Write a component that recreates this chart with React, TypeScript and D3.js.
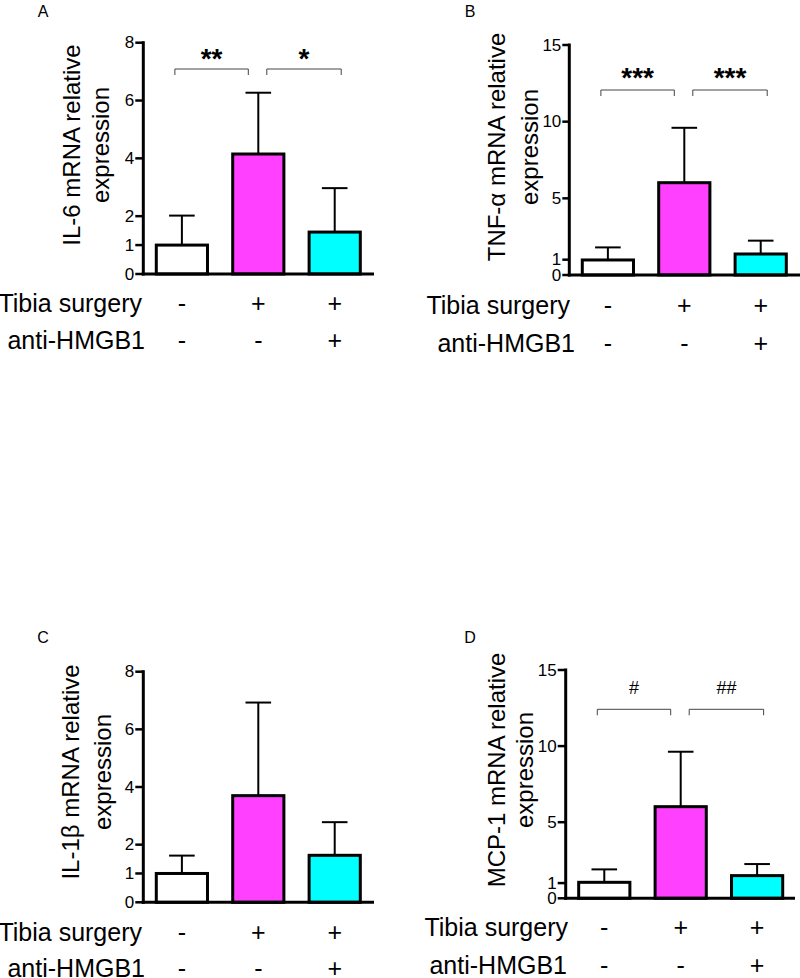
import React from "react";
import * as d3 from "d3";

// groups and row signs under each bar
const groups = ["control", "surgery", "surgery+antibody"];
const tibiaSigns = ["-", "+", "+"];
const antiSigns = ["-", "-", "+"];
const barColors = ["#FFFFFF", "#FF40FF", "#00FFFF"];

// mean and error (upper SD)
const il6Mean = [1.0, 4.15, 1.45];
const il6Err = [1.02, 2.12, 1.52];
const tnfMean = [0.98, 6.02, 1.37];
const tnfErr = [0.82, 3.58, 0.87];
const il1bMean = [1.0, 3.7, 1.63];
const il1bErr = [0.62, 3.23, 1.15];
const mcp1Mean = [1.05, 6.02, 1.49];
const mcp1Err = [0.85, 3.61, 0.76];

const smallTicks = [0, 1, 2, 4, 6, 8];
const bigTicks = [0, 1, 5, 10, 15];

const il6Sig = ["**", "*"];
const tnfSig = ["***", "***"];
const mcp1Sig = ["#", "##"];

const font = "Liberation Sans, Arial, sans-serif";

type PanelProps = {
  letter: string;
  letterX: number;
  letterY: number;
  axisX: number;
  axisEnd: number;
  y0: number;
  yTop: number;
  yMax: number;
  ticks: number[];
  tickLen: number;
  mean: number[];
  err: number[];
  yLabel: string[];
  yLabelX: number[];
  yLabelY: number;
  rowY: number[];
  rowRight: number[];
  sig?: string[];
  sigY?: number;
  sigSize?: number;
  sigBold?: boolean;
  bracketY?: number;
};

function Panel(p: PanelProps) {
  const x = d3
    .scaleBand()
    .domain(groups)
    .range([p.axisX, p.axisX + 230])
    .paddingInner(0.33)
    .paddingOuter(0.17);
  const y = d3.scaleLinear().domain([0, p.yMax]).range([p.y0, p.yTop]);
  const bw = x.bandwidth();
  const cx = (i: number) => (x(groups[i]) as number) + bw / 2;

  const brackets = p.sig
    ? [
        [cx(0) - 7, cx(1) - 10],
        [cx(1) + 8.5, cx(2) + 6.5],
      ]
    : [];

  return (
    <g fontFamily={font}>
      <text x={p.letterX} y={p.letterY} fontSize={16} textAnchor="middle">
        {p.letter}
      </text>

      {/* y label */}
      {p.yLabel.map((t, i) => (
        <text
          key={t}
          transform={`translate(${p.yLabelX[i]},${p.yLabelY}) rotate(-90)`}
          textAnchor="middle"
          dominantBaseline="central"
          fontSize={24}
        >
          {t}
        </text>
      ))}

      {/* bars */}
      {groups.map((g, i) => (
        <g key={g}>
          <line
            x1={cx(i)}
            x2={cx(i)}
            y1={y(p.mean[i])}
            y2={y(p.mean[i] + p.err[i])}
            stroke="#000"
            strokeWidth={2}
          />
          <line
            x1={cx(i) - bw / 4}
            x2={cx(i) + bw / 4}
            y1={y(p.mean[i] + p.err[i])}
            y2={y(p.mean[i] + p.err[i])}
            stroke="#000"
            strokeWidth={2}
          />
          <rect
            x={x(g)}
            y={y(p.mean[i])}
            width={bw}
            height={p.y0 - y(p.mean[i])}
            fill={barColors[i]}
            stroke="#000"
            strokeWidth={3}
          />
        </g>
      ))}

      {/* axes */}
      <line x1={p.axisX} x2={p.axisX} y1={p.y0 + 1.5} y2={p.yTop - 1.5} stroke="#000" strokeWidth={3} />
      <line x1={p.axisX - 1.5} x2={p.axisEnd} y1={p.y0} y2={p.y0} stroke="#000" strokeWidth={3} />
      {p.ticks.map((t) => (
        <g key={t}>
          <line
            x1={p.axisX - p.tickLen}
            x2={p.axisX}
            y1={y(t)}
            y2={y(t)}
            stroke="#000"
            strokeWidth={2.5}
          />
          <text
            x={p.axisX - p.tickLen - 1}
            y={y(t)}
            textAnchor="end"
            dominantBaseline="central"
            fontSize={17}
          >
            {t}
          </text>
        </g>
      ))}

      {/* significance brackets */}
      {brackets.map(([a, b], i) => (
        <g key={i}>
          <path
            d={`M${a},${(p.bracketY as number) + 6}V${p.bracketY}H${b}V${(p.bracketY as number) + 6}`}
            fill="none"
            stroke="#444"
            strokeWidth={1}
          />
          <text
            x={(a + b) / 2}
            y={p.sigY}
            textAnchor="middle"
            fontSize={p.sigSize}
            fontWeight={p.sigBold ? "bold" : "normal"}
          >
            {(p.sig as string[])[i]}
          </text>
        </g>
      ))}

      {/* rows under the chart */}
      <text x={p.rowRight[0]} y={p.rowY[0]} textAnchor="end" dominantBaseline="central" fontSize={25}>
        Tibia surgery
      </text>
      <text x={p.rowRight[1]} y={p.rowY[1]} textAnchor="end" dominantBaseline="central" fontSize={25}>
        anti-HMGB1
      </text>
      {groups.map((g, i) => (
        <g key={g}>
          <text x={cx(i)} y={p.rowY[0]} textAnchor="middle" dominantBaseline="central" fontSize={25}>
            {tibiaSigns[i]}
          </text>
          <text x={cx(i)} y={p.rowY[1]} textAnchor="middle" dominantBaseline="central" fontSize={25}>
            {antiSigns[i]}
          </text>
        </g>
      ))}
    </g>
  );
}

export default function App() {
  return (
    <svg
      width={800}
      height={978}
      style={{ position: "absolute", left: 0, top: 0, background: "#fff" }}
    >
      <rect width={800} height={978} fill="#fff" />
      <Panel
        letter="A"
        letterX={43}
        letterY={17}
        axisX={143.3}
        axisEnd={374}
        y0={274}
        yTop={42.7}
        yMax={8}
        ticks={smallTicks}
        tickLen={8}
        mean={il6Mean}
        err={il6Err}
        yLabel={["IL-6 mRNA relative", "expression"]}
        yLabelX={[71.7, 100]}
        yLabelY={145}
        rowY={[303, 340]}
        rowRight={[142, 145]}
        sig={il6Sig}
        sigY={68}
        sigSize={28}
        sigBold
        bracketY={69}
      />
      <Panel
        letter="B"
        letterX={470}
        letterY={17}
        axisX={569.3}
        axisEnd={800}
        y0={275}
        yTop={45}
        yMax={15}
        ticks={bigTicks}
        tickLen={7}
        mean={tnfMean}
        err={tnfErr}
        yLabel={["TNF-\u03B1 mRNA relative", "expression"]}
        yLabelX={[496.7, 529]}
        yLabelY={147}
        rowY={[305, 343]}
        rowRight={[570, 575]}
        sig={tnfSig}
        sigY={87}
        sigSize={28}
        sigBold
        bracketY={90}
      />
      <Panel
        letter="C"
        letterX={43}
        letterY={643}
        axisX={143.3}
        axisEnd={374}
        y0={902.3}
        yTop={671.7}
        yMax={8}
        ticks={smallTicks}
        tickLen={8}
        mean={il1bMean}
        err={il1bErr}
        yLabel={["IL-1\u03B2 mRNA relative", "expression"]}
        yLabelX={[70, 102]}
        yLabelY={772}
        rowY={[931.7, 968]}
        rowRight={[142, 145]}
      />
      <Panel
        letter="D"
        letterX={470}
        letterY={643}
        axisX={565.7}
        axisEnd={795}
        y0={898.3}
        yTop={670}
        yMax={15}
        ticks={bigTicks}
        tickLen={8}
        mean={mcp1Mean}
        err={mcp1Err}
        yLabel={["MCP-1 mRNA relative", "expression"]}
        yLabelX={[496.7, 524]}
        yLabelY={770}
        rowY={[926.7, 965]}
        rowRight={[568, 567]}
        sig={mcp1Sig}
        sigY={694}
        sigSize={18}
        bracketY={709.3}
      />
    </svg>
  );
}
